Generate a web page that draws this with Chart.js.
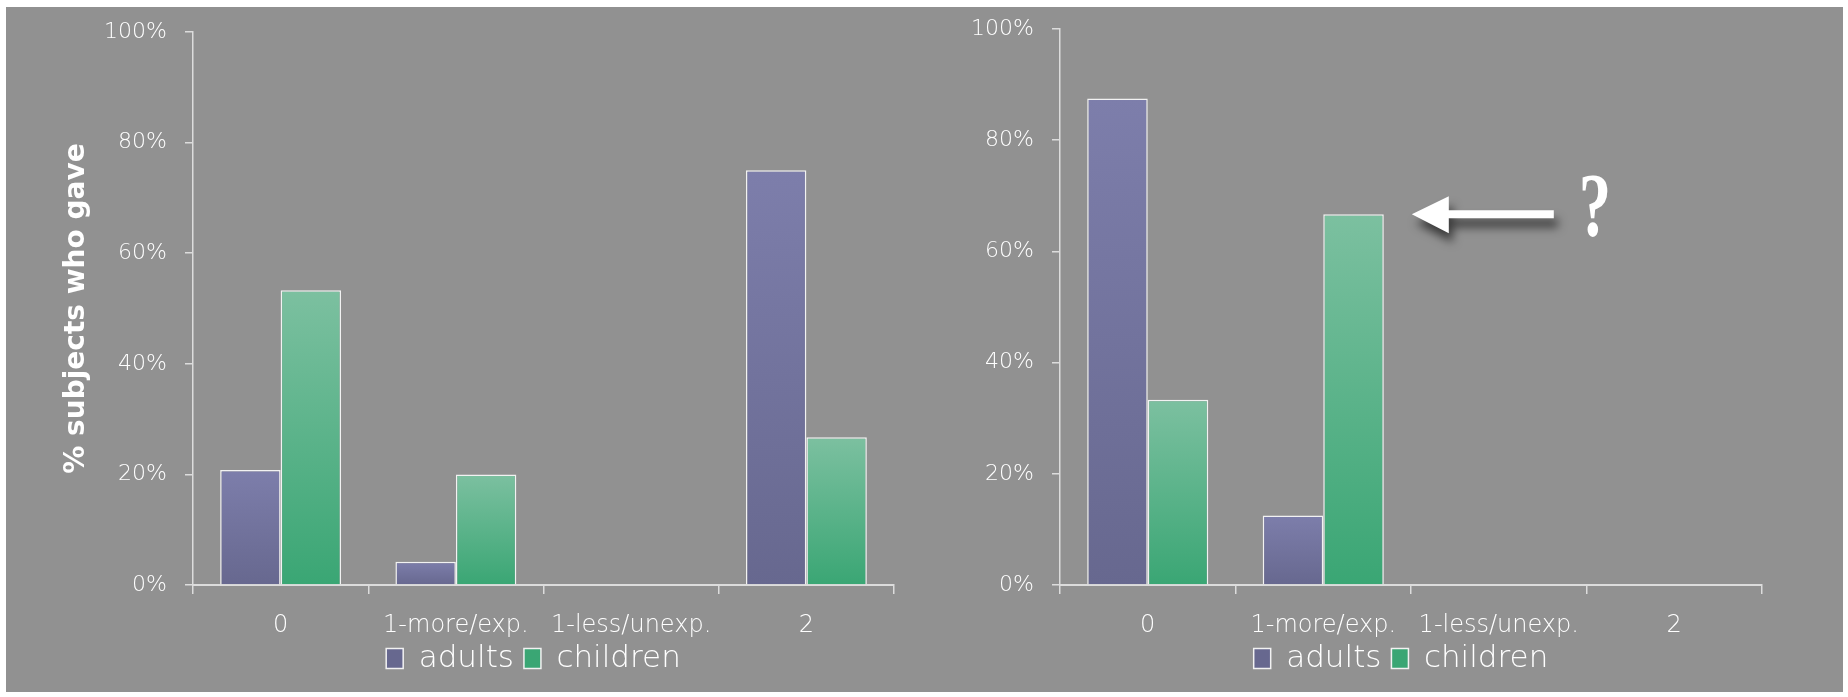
<!DOCTYPE html>
<html lang="en">
<head>
    <meta charset="UTF-8">
    <title>Explanations given</title>
    <script src="https://cdn.jsdelivr.net/npm/chart.js@4/dist/chart.umd.min.js"></script>
    <style>
        body { margin: 0; background: #fff; width: 1848px; height: 697px; overflow: hidden; }
        .panel { position: absolute; left: 6px; top: 7px; width: 1837px; height: 685px; background: #919191; }
        canvas { position: absolute; top: 7px; }
        #left { left: 6px; }
        #right { left: 930px; }
    </style>
</head>
<body>
<div class="panel"></div>
<canvas id="left" width="924" height="685"></canvas>
<canvas id="right" width="913" height="685"></canvas>
<script>
    const categories = ['0', '1-more/exp.', '1-less/unexp.', '2']
    const yTicks = [0, 20, 40, 60, 80, 100]

    // left panel
    const adultsLeft = [20.8, 4.2, 0, 75]
    const childrenLeft = [53.3, 20, 0, 26.7]

    // right panel
    const adultsRight = [87.5, 12.5, 0, 0]
    const childrenRight = [33.3, 66.7, 0, 0]

    const textColor = '#ffffff'
    const axisColor = '#dcdcdc'
    const lightFont = '"DejaVu Sans", sans-serif'

    function barFill(top, bottom, solid) {
        return function (ctx) {
            if (ctx.type !== 'data' || !ctx.parsed) return solid
            const chart = ctx.chart
            const y = chart.scales.y
            if (!y || !chart.chartArea) return solid
            const y1 = y.getPixelForValue(ctx.parsed.y)
            const y0 = y.getPixelForValue(0)
            if (!isFinite(y1) || Math.abs(y0 - y1) < 1) return solid
            const g = chart.ctx.createLinearGradient(0, y1, 0, y0)
            g.addColorStop(0, top)
            g.addColorStop(1, bottom)
            return g
        }
    }

    function datasets(adults, children) {
        return [
            {
                label: 'adults',
                data: adults,
                backgroundColor: barFill('#7d7eab', '#67688f', '#7274a0'),
                borderColor: '#f2f2f2',
                borderWidth: 1.5,
                borderSkipped: 'bottom',
                categoryPercentage: 0.69,
                barPercentage: 1.0
            },
            {
                label: 'children',
                data: children,
                backgroundColor: barFill('#7cc0a0', '#3aa674', '#5bb38a'),
                borderColor: '#f2f2f2',
                borderWidth: 1.5,
                borderSkipped: 'bottom',
                categoryPercentage: 0.69,
                barPercentage: 1.0
            }
        ]
    }

    // nudge the legend up and a little to the left, like the original slide
    const legendShift = {
        id: 'legendShift',
        afterLayout(chart) {
            if (!chart.legend) return
            chart.legend.left -= 10
            chart.legend.right -= 10
            chart.legend.top -= 8
            chart.legend.bottom -= 8
        }
    }

    // arrow with a question mark, placed next to the children bar of "1-more/exp."
    const questionArrow = {
        id: 'questionArrow',
        afterDatasetsDraw(chart) {
            const bar = chart.getDatasetMeta(1).data[1]
            if (!bar) return
            const c = chart.ctx
            const tipX = bar.x + bar.width / 2 + 28
            const y = bar.y
            const headLen = 37
            const tailX = tipX + 142
            c.save()
            c.shadowColor = 'rgba(0,0,0,0.6)'
            c.shadowBlur = 10
            c.shadowOffsetX = 4
            c.shadowOffsetY = 9
            c.fillStyle = '#ffffff'
            c.beginPath()
            c.moveTo(tipX, y)
            c.lineTo(tipX + headLen, y - 18)
            c.lineTo(tipX + headLen, y - 4)
            c.lineTo(tailX, y - 4)
            c.lineTo(tailX, y + 4)
            c.lineTo(tipX + headLen, y + 4)
            c.lineTo(tipX + headLen, y + 19)
            c.closePath()
            c.fill()
            c.restore()

            c.save()
            c.fillStyle = '#ffffff'
            c.font = 'bold 90px "Liberation Serif", serif'
            c.textAlign = 'left'
            c.textBaseline = 'alphabetic'
            c.translate(tailX + 25, y + 22)
            c.scale(0.72, 1)
            c.fillText('?', 0, 0)
            c.restore()
        }
    }

    function makeChart(id, adults, children, opts) {
        return new Chart(document.getElementById(id), {
            type: 'bar',
            data: {
                labels: categories,
                datasets: datasets(adults, children)
            },
            plugins: [legendShift].concat(opts.plugins || []),
            options: {
                responsive: false,
                animation: false,
                layout: {
                    padding: {left: 0, right: opts.right, top: opts.top, bottom: 0}
                },
                plugins: {
                    tooltip: {enabled: false},
                    legend: {
                        position: 'bottom',
                        fullSize: false,
                        labels: {
                            color: textColor,
                            font: {family: lightFont, size: 31, weight: 200},
                            boxWidth: 17,
                            boxHeight: 20,
                            padding: 10
                        }
                    }
                },
                scales: {
                    x: {
                        grid: {
                            offset: true,
                            drawOnChartArea: false,
                            drawTicks: true,
                            tickLength: 9,
                            color: axisColor,
                            lineWidth: 1.5
                        },
                        border: {color: axisColor, width: 2},
                        ticks: {
                            color: textColor,
                            font: {family: lightFont, size: 24, weight: 200},
                            padding: 17,
                            maxRotation: 0,
                            autoSkip: false
                        },
                        afterFit: s => { s.height = 56 }
                    },
                    y: {
                        min: 0,
                        max: 100,
                        afterBuildTicks: s => { s.ticks = yTicks.map(v => ({value: v})) },
                        grid: {
                            drawOnChartArea: false,
                            drawTicks: true,
                            tickLength: 8,
                            color: axisColor,
                            lineWidth: 1.5
                        },
                        border: {color: axisColor, width: 1.5},
                        ticks: {
                            color: textColor,
                            font: {family: lightFont, size: 22, weight: 200},
                            padding: 18,
                            callback: v => v + '%'
                        },
                        title: {
                            display: opts.title,
                            text: '% subjects who gave',
                            color: '#ffffff',
                            font: {family: lightFont, size: 28, weight: 'bold'},
                            padding: {top: 54, bottom: 0}
                        },
                        afterFit: s => {
                            s.width = opts.yWidth
                            s.paddingTop = 0
                            s.paddingBottom = 0
                        }
                    }
                }
            }
        })
    }

    makeChart('left', adultsLeft, childrenLeft, {right: 36, top: 25, yWidth: 187, title: true})
    makeChart('right', adultsRight, childrenRight, {right: 81, top: 22, yWidth: 130, title: false, plugins: [questionArrow]})
</script>
</body>
</html>
